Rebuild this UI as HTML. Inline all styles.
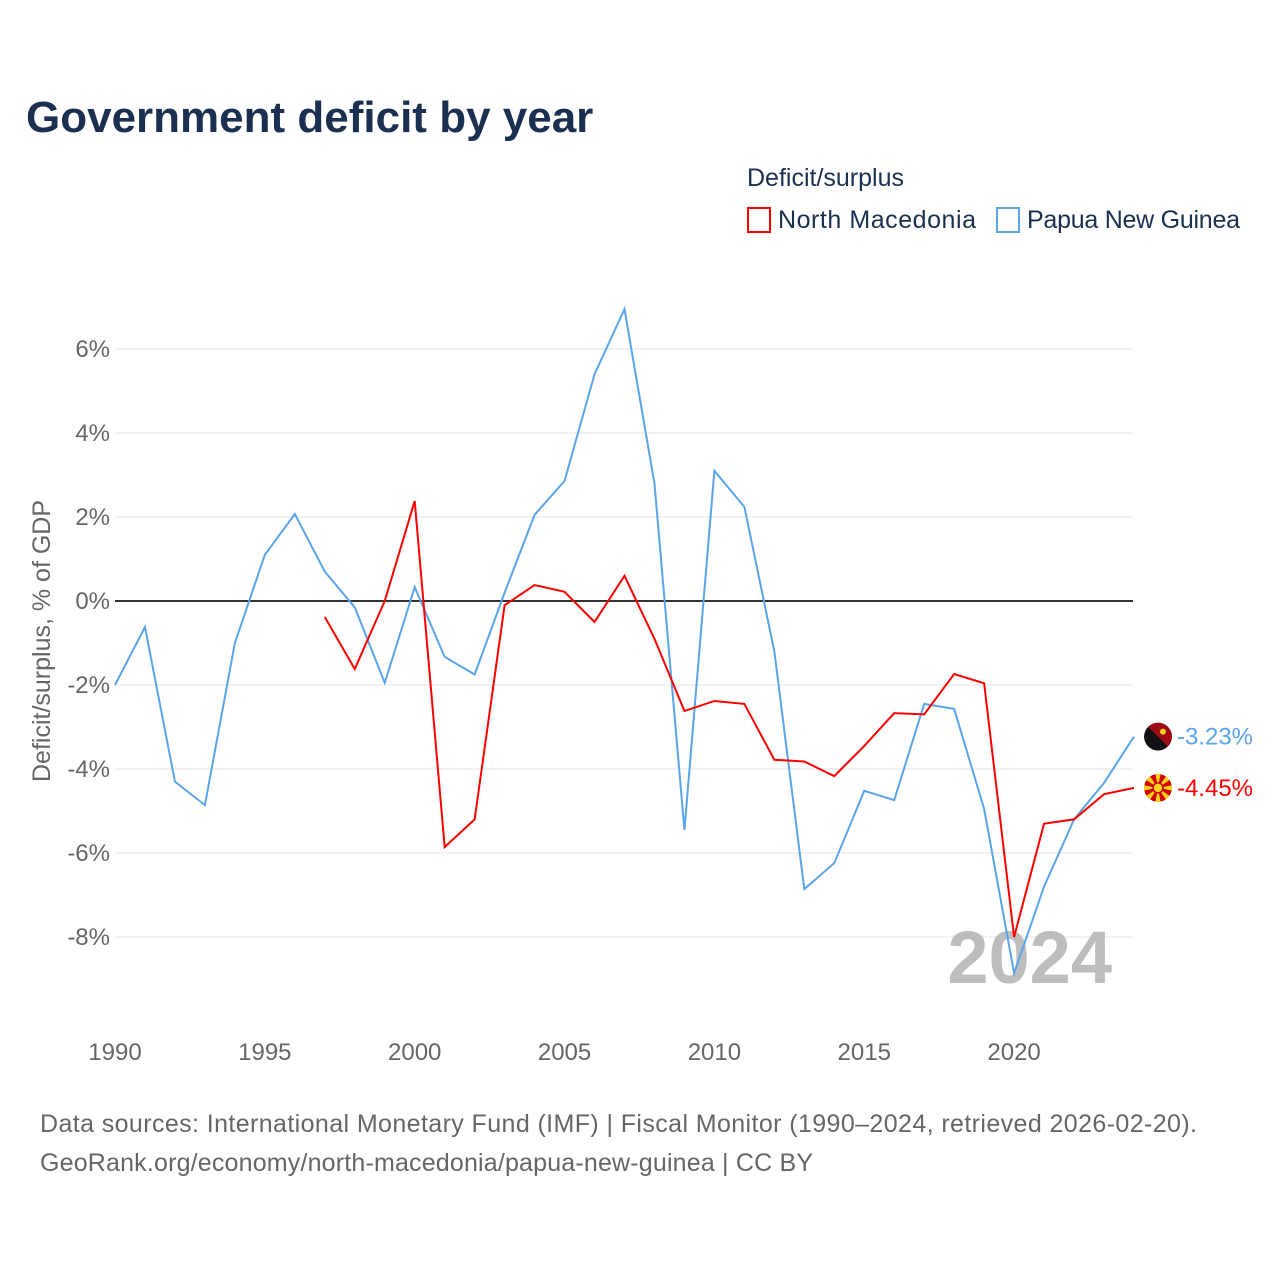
<!DOCTYPE html>
<html><head><meta charset="utf-8"><style>
body{margin:0;background:#fff;font-family:"Liberation Sans",sans-serif;}
</style></head><body>
<svg width="1280" height="1280" xmlns="http://www.w3.org/2000/svg">
<defs><clipPath id="flagclip"><circle cx="0" cy="0" r="14"/></clipPath></defs>
<text x="26" y="132" font-size="44" font-weight="bold" fill="#1b3050">Government deficit by year</text>
<text x="747" y="186" font-size="25" fill="#1b3050">Deficit/surplus</text>
<g><rect x="748" y="208" width="22" height="24" fill="none" stroke="#ff0000" stroke-width="2"/><text x="778" y="228" font-size="25" fill="#1b3050" textLength="198">North Macedonia</text></g>
<g><rect x="997" y="208" width="22" height="24" fill="none" stroke="#5aa5ea" stroke-width="2"/><text x="1027" y="228" font-size="25" fill="#1b3050" textLength="213">Papua New Guinea</text></g>
<g id="grid"></g><g id="axes"></g>
<text x="1112" y="983" font-size="74" font-weight="bold" fill="#bdbdbd" text-anchor="end">2024</text>
<g id="series"></g>
<text transform="translate(50,641) rotate(-90)" font-size="25" fill="#666" text-anchor="middle">Deficit/surplus, % of GDP</text>
<text x="40" y="1132" font-size="25" fill="#666" textLength="1157">Data sources: International Monetary Fund (IMF) | Fiscal Monitor (1990–2024, retrieved 2026-02-20).</text>
<text x="40" y="1171" font-size="25" fill="#666" textLength="773">GeoRank.org/economy/north-macedonia/papua-new-guinea | CC BY</text>
</svg>
<script>
const yTicks=[-8,-6,-4,-2,0,2,4,6];
const xTicks=[1990,1995,2000,2005,2010,2015,2020];
const pngYears=[1990,1991,1992,1993,1994,1995,1996,1997,1998,1999,2000,2001,2002,2003,2004,2005,2006,2007,2008,2009,2010,2011,2012,2013,2014,2015,2016,2017,2018,2019,2020,2021,2022,2023,2024];
const pngValues=[-2.0,-0.62,-4.3,-4.86,-1.0,1.1,2.07,0.7,-0.15,-1.95,0.33,-1.33,-1.75,0.2,2.05,2.86,5.4,6.95,2.8,-5.45,3.1,2.24,-1.2,-6.86,-6.24,-4.52,-4.74,-2.45,-2.57,-4.95,-8.86,-6.8,-5.2,-4.33,-3.23];
const mkdYears=[1997,1998,1999,2000,2001,2002,2003,2004,2005,2006,2007,2008,2009,2010,2011,2012,2013,2014,2015,2016,2017,2018,2019,2020,2021,2022,2023,2024];
const mkdValues=[-0.38,-1.62,0.0,2.38,-5.86,-5.2,-0.1,0.38,0.22,-0.5,0.6,-0.9,-2.62,-2.38,-2.45,-3.78,-3.82,-4.17,-3.45,-2.67,-2.7,-1.74,-1.96,-8.0,-5.3,-5.2,-4.6,-4.45];
const NS="http://www.w3.org/2000/svg";
const X=y=>115+(y-1990)*29.97, Y=v=>601-v*42;
function el(t,a,p){const e=document.createElementNS(NS,t);for(const k in a)e.setAttribute(k,a[k]);(typeof p==='string'?document.getElementById(p):p).appendChild(e);return e;}
yTicks.forEach(v=>{
 const l=el('line',{x1:115,x2:1133,y1:Y(v),y2:Y(v),stroke:v===0?'#333':'#e6e6e6','stroke-width':v===0?2:1},'grid');
 
 
 const t=el('text',{x:110,y:Y(v)+8,'font-size':24,fill:'#666','text-anchor':'end'},'axes');t.textContent=v+'%';
 
 
});
xTicks.forEach(v=>{
 const t=el('text',{x:X(v),y:1060,'font-size':24,fill:'#666','text-anchor':'middle'},'axes');t.textContent=v;
 
 
});
function series(ys,vs,c,name){
 const p=el('polyline',{points:ys.map((y,i)=>X(y)+','+Y(vs[i])).join(' '),fill:'none',stroke:c,'stroke-width':2},'series');
 
 
 const lx=X(ys[ys.length-1]),ly=Y(vs[vs.length-1]);
 const g=el('g',{transform:`translate(${lx+24},${ly})`,'clip-path':'url(#flagclip)'},'series');
 
 
 if(c==='#ff0000'){
  el('circle',{cx:0,cy:0,r:14,fill:'#d20000'},g);
  for(let k=0;k<8;k++){el('path',{d:'M0 0 L-3 -16 L3 -16 Z',fill:'#f8d21a',transform:`rotate(${k*45})`},g);}
  el('circle',{cx:0,cy:0,r:5,fill:'#f8d21a',stroke:'#d20000','stroke-width':1.5},g);
 } else {
  el('circle',{cx:0,cy:0,r:14,fill:'#111'},g);
  el('path',{d:'M-14 -14 L14 -14 L14 14 Z',fill:'#9e0b16'},g);
  el('circle',{cx:5,cy:-5,r:3,fill:'#f8d21a'},g);
 }
 const t=el('text',{x:lx+43,y:ly+8,'font-size':24,fill:c},'series');t.textContent=vs[vs.length-1].toFixed(2)+'%';
 
 
}
series(pngYears,pngValues,'#5aa5ea','papua-new-guinea-line');
series(mkdYears,mkdValues,'#ff0000','north-macedonia-line');
</script>
</body></html>
